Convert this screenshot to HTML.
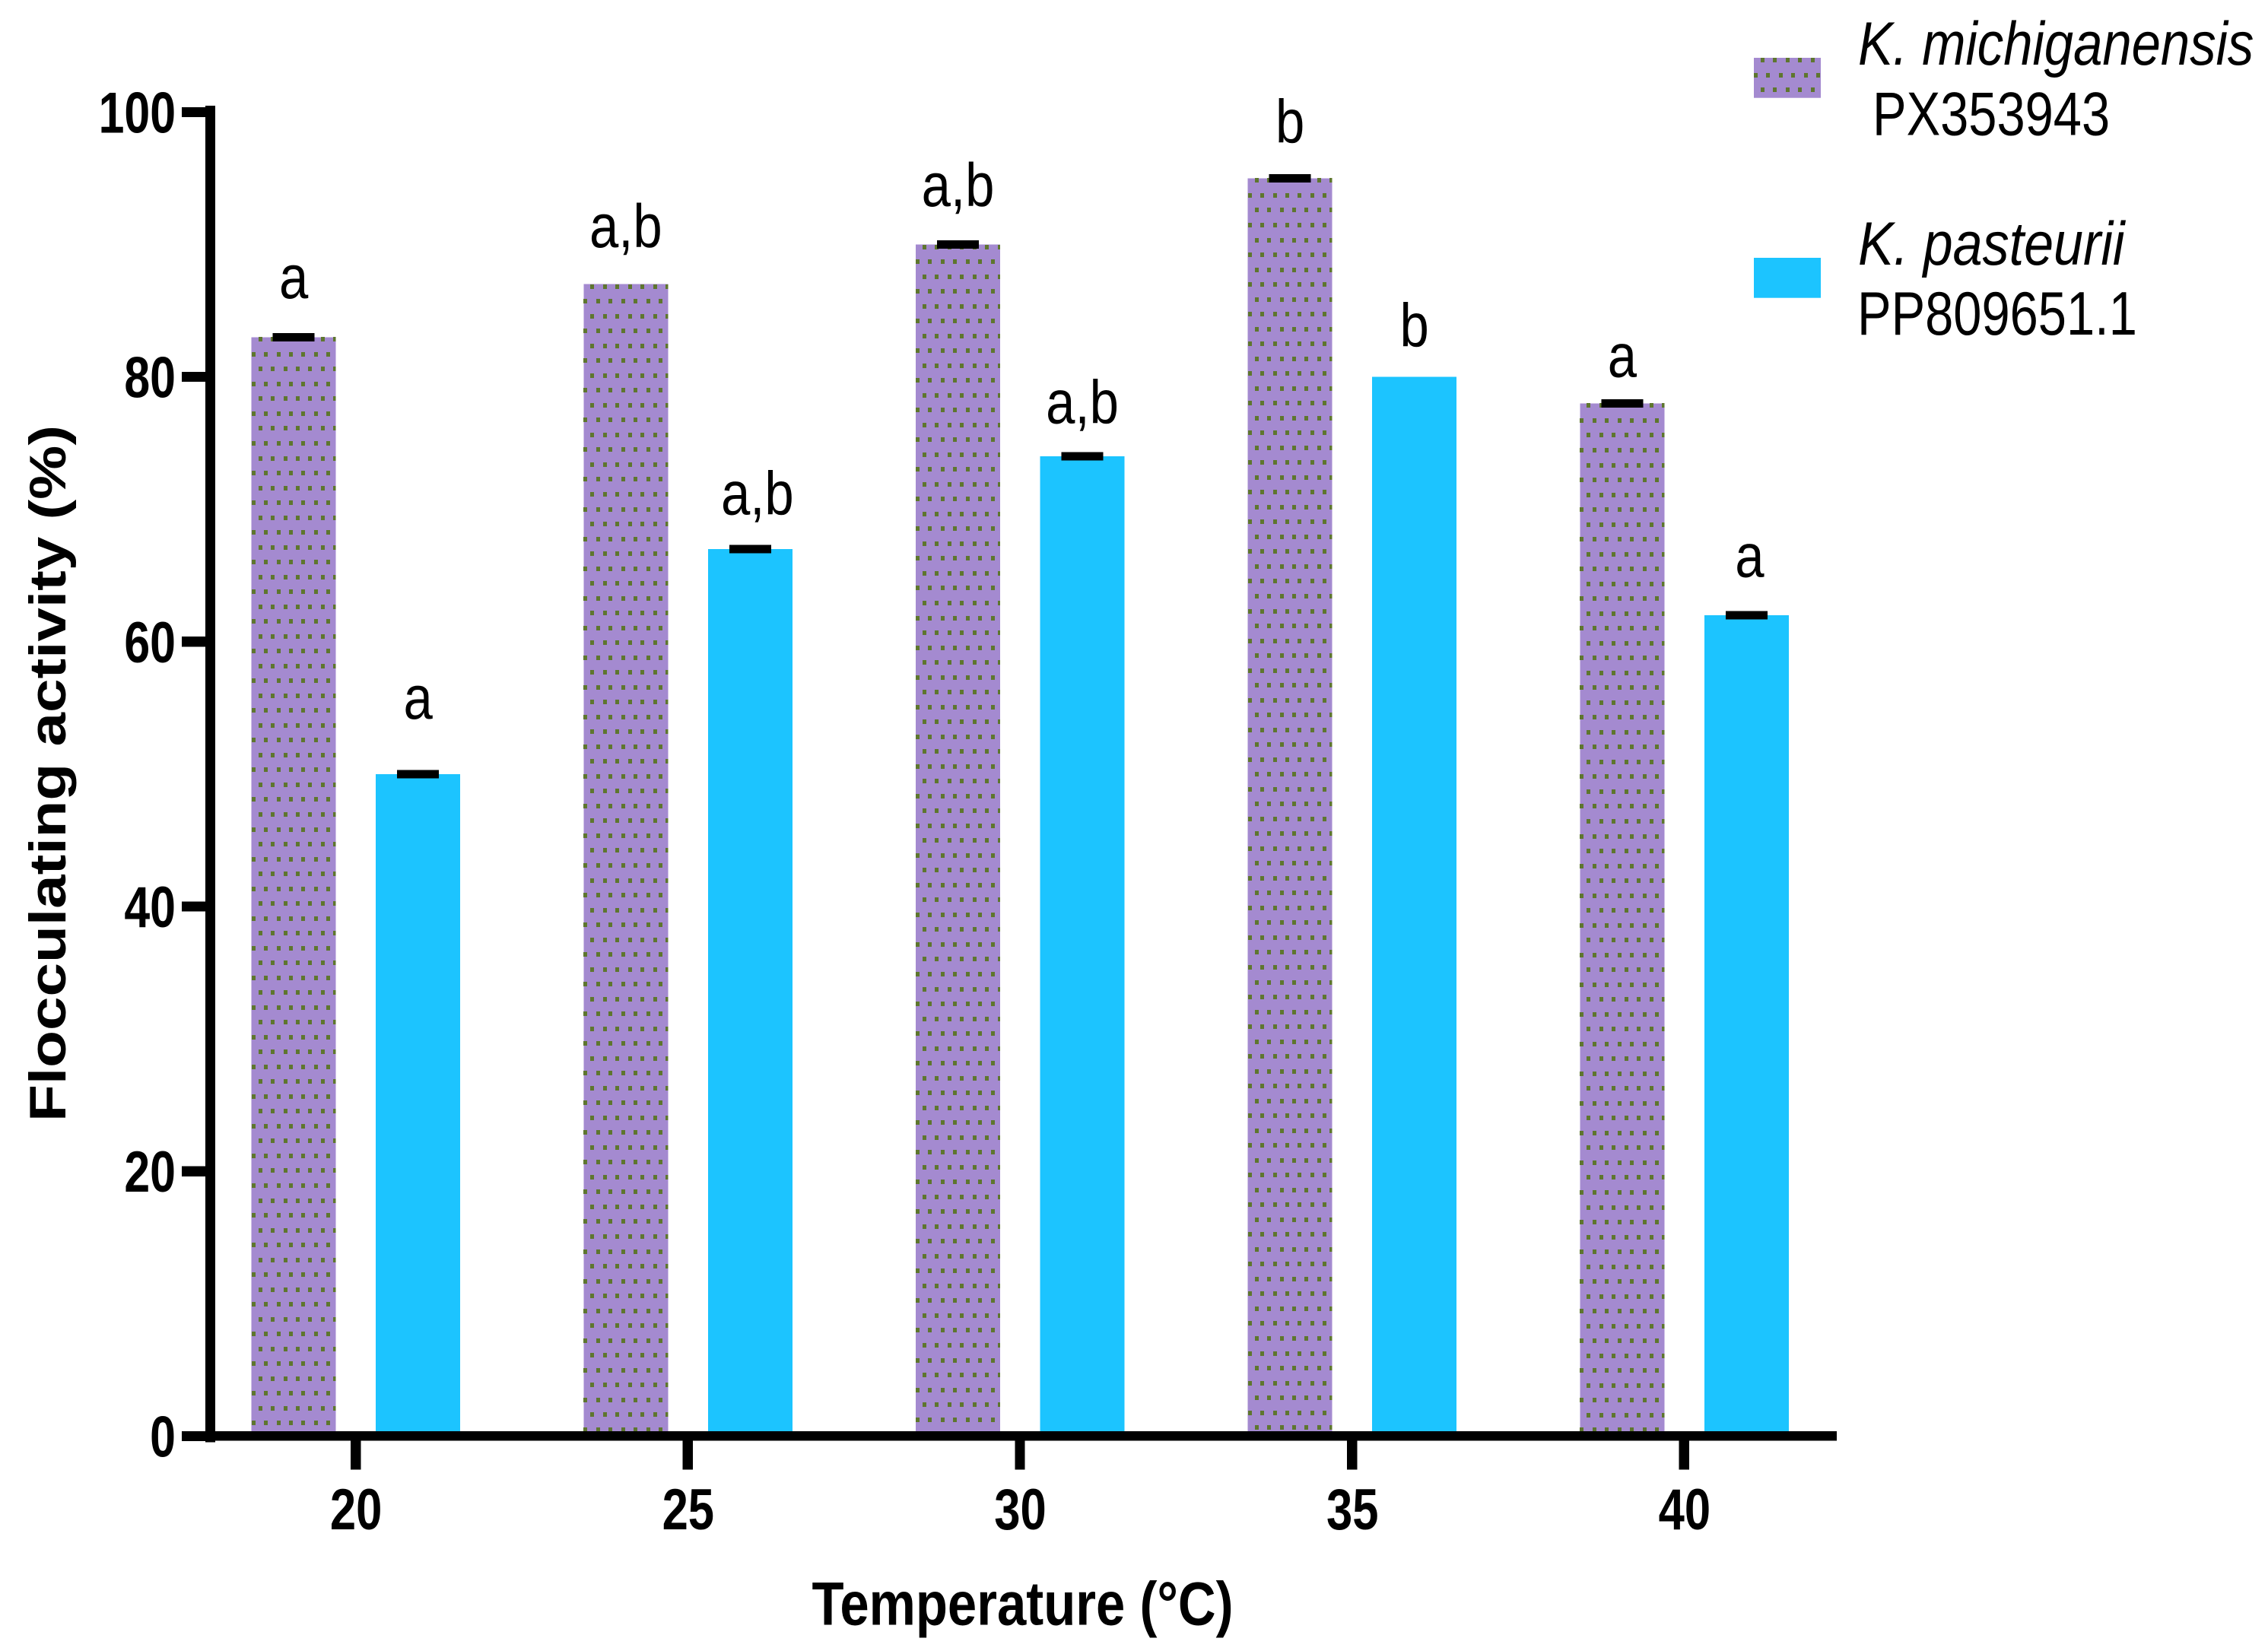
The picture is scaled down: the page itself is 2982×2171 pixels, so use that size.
<!DOCTYPE html>
<html lang="en">
<head>
<meta charset="utf-8">
<title>Flocculating activity by temperature</title>
<style>
  html, body { margin: 0; padding: 0; background: #fff; }
  body { width: 2982px; height: 2171px; overflow: hidden; }
  svg { display: block; }
  text { font-family: "Liberation Sans", Arial, sans-serif; fill: #000; }
</style>
</head>
<body>
<svg id="chart" xmlns="http://www.w3.org/2000/svg" width="2982" height="2171" viewBox="0 0 2982 2171">
  <rect x="0" y="0" width="2982" height="2171" fill="#ffffff"/>
  <g id="bars"></g>
  <g id="errors"></g>
  <g id="letters"></g>
  <g id="axes"></g>

  <text transform="translate(1344.5 2136.5) scale(0.85 1)" text-anchor="middle" font-size="81" font-weight="700">Temperature (°C)</text>
  <text transform="translate(86 1017) rotate(-90) scale(1.177 1)" text-anchor="middle" font-size="68" font-weight="700">Flocculating activity (%)</text>

  <g id="legend">
    <g>
      <rect x="2306" y="76" width="88" height="52.7" fill="#a48ad0"/>
      <path id="legend-dots" fill="#5e762e" shape-rendering="crispEdges"/>
      <text transform="translate(2443 85) scale(0.85 1)" font-size="81" font-style="italic">K. michiganensis</text>
      <text transform="translate(2462 177.5) scale(0.825 1)" font-size="81">PX353943</text>
    </g>
    <g>
      <rect x="2306" y="339" width="88" height="52.7" fill="#1cc4ff"/>
      <text transform="translate(2443 348) scale(0.865 1)" font-size="81" font-style="italic">K. pasteurii</text>
      <text transform="translate(2442 440) scale(0.825 1)" font-size="81">PP809651.1</text>
    </g>
  </g>
</svg>

<script>
// ---- chart data ----
const categories = ['20', '25', '30', '35', '40'];
const yTickLabels = [0, 20, 40, 60, 80, 100];
const michiganensisValues = [83, 87, 90, 95, 78];
const pasteuriiValues = [50, 67, 74, 80, 62];
const michiganensisErrors = [0.32, 0, 0.32, 0.32, 0.32];
const pasteuriiErrors = [0.32, 0.32, 0.32, 0, 0.32];
const michiganensisLetters = ['a', 'a,b', 'a,b', 'b', 'a'];
const pasteuriiLetters = ['a', 'a,b', 'a,b', 'b', 'a'];
// value-axis height of each letter's baseline
const michiganensisLetterLevels = [85.95, 89.8, 92.9, 97.7, 80.0];
const pasteuriiLetterLevels = [54.2, 69.6, 76.5, 82.3, 64.9];

// ---- axis functions ----
const NS = 'http://www.w3.org/2000/svg';
function yScale(v) { return 1888.4 - v * 17.41; }
function xScale(i) { return 467.6 + i * 436.7; }

const BAR_W = 111;
const BAR_GAP = 26;
const PURPLE = '#a48ad0';
const BLUE = '#1cc4ff';
const BASE_Y = 1882;

function svgEl(tag, parent) {
  const el = document.createElementNS(NS, tag);
  parent.appendChild(el);
  return el;
}
function setRect(el, x, y, w, h, fill) {
  el.setAttribute('x', x);
  el.setAttribute('y', y);
  el.setAttribute('width', w);
  el.setAttribute('height', h);
  el.setAttribute('fill', fill);
  el.setAttribute('shape-rendering', 'crispEdges');
}
function setText(el, str, x, y, size, weight, anchor, sx) {
  el.textContent = str;
  el.setAttribute('transform', 'translate(' + x + ' ' + y + ') scale(' + sx + ' 1)');
  el.setAttribute('font-size', size);
  el.setAttribute('font-weight', weight);
  el.setAttribute('text-anchor', anchor);
}
function dotPath(x0, y0, w, h) {
  const stepX = 16.45, stepY = 19.52, dotW = 5, dotH = 6;
  let d = '';
  for (let r = 0; y0 + r * stepY < y0 + h; r++) {
    const ry = Math.round(y0 + r * stepY);
    const rh = Math.min(dotH, y0 + h - ry);
    if (rh <= 0) continue;
    const off = r % 2 === 0 ? 9 : 0;
    for (let c = 0; off + c * stepX < w; c++) {
      const dx = Math.round(x0 + off + c * stepX);
      const dw = Math.min(dotW, x0 + w - dx);
      if (dw <= 0) continue;
      d += 'M' + dx + ' ' + ry + 'h' + dw + 'v' + rh + 'h' + (-dw) + 'z';
    }
  }
  return d;
}

const barsG = document.getElementById('bars');
const errorsG = document.getElementById('errors');
const lettersG = document.getElementById('letters');
const axesG = document.getElementById('axes');

// ---- bars, error bars, letters ----
categories.forEach(function (cat, i) {
  const tickX = xScale(i);

  // K. michiganensis
  const mx = tickX - BAR_GAP - BAR_W;
  const mTop = yScale(michiganensisValues[i]);
  const mBar = svgEl('rect', barsG);
  setRect(mBar, mx, mTop, BAR_W, BASE_Y - mTop, PURPLE);
  
  
  const mDots = svgEl('path', barsG);
  mDots.setAttribute('d', dotPath(mx, mTop, BAR_W, BASE_Y - mTop));
  mDots.setAttribute('fill', '#5e762e');
  mDots.setAttribute('shape-rendering', 'crispEdges');
  
  

  // K. pasteurii
  const px = tickX + BAR_GAP + 0.5;
  const pTop = yScale(pasteuriiValues[i]);
  const pBar = svgEl('rect', barsG);
  setRect(pBar, px, pTop, BAR_W, BASE_Y - pTop, BLUE);
  
  

  // error caps
  if (michiganensisErrors[i] > 0) {
    const up = yScale(michiganensisValues[i] + michiganensisErrors[i]);
    const dn = yScale(michiganensisValues[i] - michiganensisErrors[i]);
    const mCap = svgEl('rect', errorsG);
    setRect(mCap, mx + BAR_W / 2 - 27.5, up, 55, dn - up, '#000');
    
    
  }
  if (pasteuriiErrors[i] > 0) {
    const up = yScale(pasteuriiValues[i] + pasteuriiErrors[i]);
    const dn = yScale(pasteuriiValues[i] - pasteuriiErrors[i]);
    const pCap = svgEl('rect', errorsG);
    setRect(pCap, px + BAR_W / 2 - 27.5, up, 55, dn - up, '#000');
    
    
  }

  // significance letters
  const mLetter = svgEl('text', lettersG);
  setText(mLetter, michiganensisLetters[i], mx + BAR_W / 2, yScale(michiganensisLetterLevels[i]), 81, 400, 'middle', 0.85);
  
  
  const pNudge = i === 1 ? 9.5 : (i === 4 ? 4 : 0);
  const pLetter = svgEl('text', lettersG);
  setText(pLetter, pasteuriiLetters[i], px + BAR_W / 2 + pNudge, yScale(pasteuriiLetterLevels[i]), 81, 400, 'middle', 0.85);
  
  

  // x tick + label
  const xTick = svgEl('rect', axesG);
  setRect(xTick, tickX - 6.7, 1890, 13.4, 42.7, '#000');
  
  
  const xLabel = svgEl('text', axesG);
  setText(xLabel, cat, tickX + 0.5, 2011, 76, 700, 'middle', 0.81);
  
  
});

// ---- y axis ----
yTickLabels.forEach(function (t) {
  const yTick = svgEl('rect', axesG);
  setRect(yTick, 239, yScale(t) - 6.6, 36, 13.2, '#000');
  
  
  const yLabel = svgEl('text', axesG);
  setText(yLabel, String(t), 231, yScale(t) + 27, 76, 700, 'end', 0.8);
  
  
});

const yAxisLine = svgEl('rect', axesG);
setRect(yAxisLine, 270, 139, 13, 1757.7, '#000');



const xAxisLine = svgEl('rect', axesG);
setRect(xAxisLine, 239, 1882, 2176, 12.7, '#000');



// ---- legend swatch dots ----
document.getElementById('legend-dots').setAttribute('d', dotPath(2306, 76, 88, 52.7));
</script>
</body>
</html>
